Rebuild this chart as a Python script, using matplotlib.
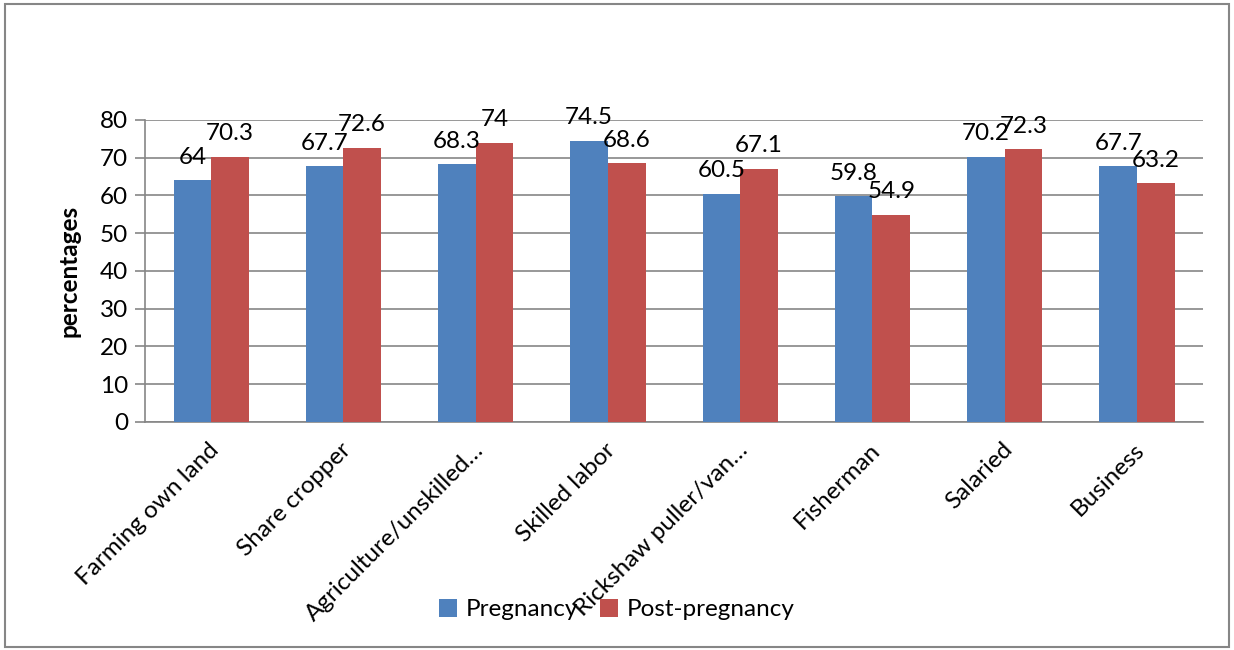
import numpy as np
import matplotlib.pyplot as plt
from matplotlib.patches import Rectangle
from matplotlib.transforms import ScaledTranslation

plt.rcParams['font.family'] = ['Lato', 'DejaVu Sans']

categories = ['Farming own land', 'Share cropper', 'Agriculture/unskilled…',
              'Skilled labor', 'Rickshaw puller/van…', 'Fisherman',
              'Salaried', 'Business']
pregnancy = [64, 67.7, 68.3, 74.5, 60.5, 59.8, 70.2, 67.7]
post_pregnancy = [70.3, 72.6, 74, 68.6, 67.1, 54.9, 72.3, 63.2]
yticks = [0, 10, 20, 30, 40, 50, 60, 70, 80]

blue = '#4F81BD'
red = '#C0504D'
grid = '#868686'
fs = 17.5

fig = plt.figure(figsize=(12.34, 6.5), dpi=100)
ax = fig.add_axes([0.1175, 0.3508, 0.8575, 0.4646])

x = np.arange(len(categories))
w = 0.284
b1 = ax.bar(x - w / 2, pregnancy, w, color=blue, label='Pregnancy', zorder=3)
b2 = ax.bar(x + w / 2, post_pregnancy, w, color=red, label='Post-pregnancy', zorder=3)

for bars, vals in ((b1, pregnancy), (b2, post_pregnancy)):
    for r, v in zip(bars, vals):
        ax.annotate(f'{v:g}', (r.get_x() + r.get_width() / 2, v),
                    xytext=(0, 9), textcoords='offset points',
                    ha='center', va='bottom', fontsize=fs, zorder=4)

ax.set_xlim(-0.5, len(categories) - 0.5)
ax.set_ylim(0, 80)
ax.set_yticks(yticks)
ax.yaxis.grid(True, color=grid, linewidth=1.2, zorder=0)
ax.tick_params(axis='y', length=7, width=1.2, color=grid, labelsize=fs, pad=5)
ax.tick_params(axis='x', length=0, labelsize=fs, pad=0)
ax.set_xticks(x)
ax.set_xticklabels(categories, rotation=45, ha='right', va='top',
                   rotation_mode='anchor')
offset = ScaledTranslation(-0.03, -0.17, fig.dpi_scale_trans)
for lbl in ax.get_xticklabels():
    lbl.set_transform(lbl.get_transform() + offset)

for side in ('top', 'right'):
    ax.spines[side].set_visible(False)
ax.spines['left'].set_color(grid)
ax.spines['bottom'].set_color(grid)
ax.spines['left'].set_linewidth(1.2)
ax.spines['bottom'].set_linewidth(1.2)

ax.set_ylabel('percentages', fontsize=fs, fontweight='bold', labelpad=14)

fig.legend(handles=[b1, b2], loc='center', bbox_to_anchor=(0.5, 0.062),
           ncol=2, frameon=False, fontsize=fs, handlelength=0.75,
           handleheight=0.75, handletextpad=0.35, columnspacing=0.9)

fig.patches.append(Rectangle((0.004, 0.004), 0.992, 0.99, transform=fig.transFigure,
                             fill=False, edgecolor=grid, linewidth=1.5))

fig.savefig('out.png', dpi=100)
